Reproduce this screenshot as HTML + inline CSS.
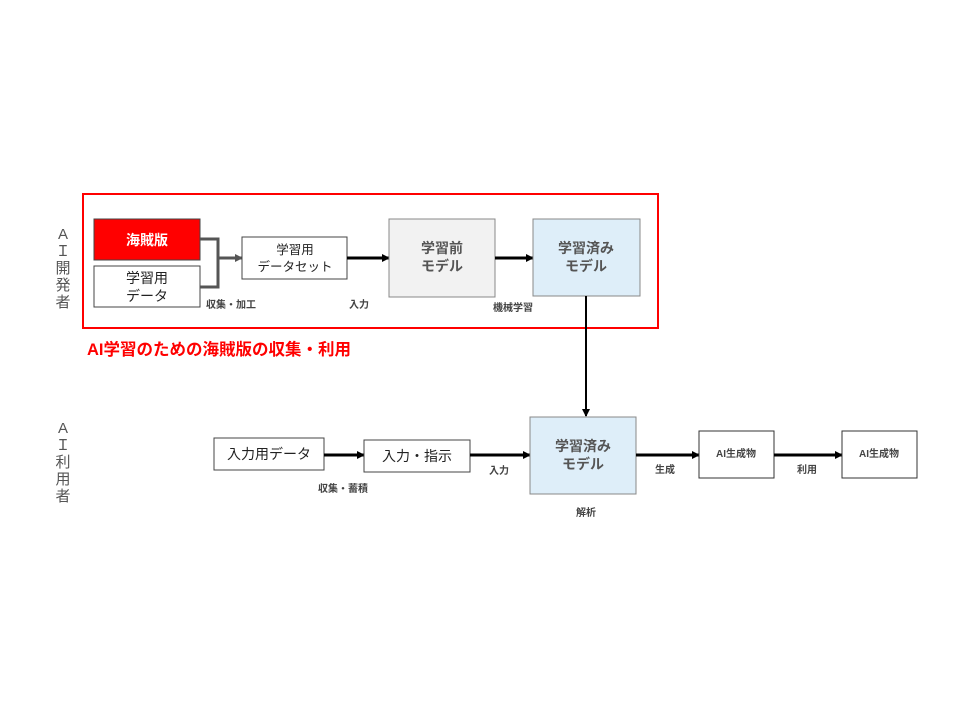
<!DOCTYPE html>
<html><head><meta charset="utf-8"><style>
html,body{margin:0;padding:0;background:#fff;}
svg{display:block}
text{font-family:"Liberation Sans","Noto Sans CJK JP",sans-serif;}
</style></head><body>
<svg width="960" height="720" viewBox="0 0 960 720" xmlns="http://www.w3.org/2000/svg">
<defs>
<marker id="a" markerWidth="8" markerHeight="8" refX="7" refY="4" orient="auto" markerUnits="userSpaceOnUse"><path d="M0,0 L8,4 L0,8 z" fill="#000"/></marker>
<marker id="g" markerWidth="8" markerHeight="8" refX="7" refY="4" orient="auto" markerUnits="userSpaceOnUse"><path d="M0,0 L8,4 L0,8 z" fill="#555"/></marker>
</defs>
<g font-size="15" fill="#555" text-anchor="middle">
<text x="63" y="239">A</text><text x="63" y="256">Ｉ</text><text x="63" y="273">開</text><text x="63" y="290">発</text><text x="63" y="307">者</text>
<text x="63" y="433">A</text><text x="63" y="450">Ｉ</text><text x="63" y="467">利</text><text x="63" y="484">用</text><text x="63" y="501">者</text>
</g>
<rect x="83" y="194" width="575" height="134" fill="none" stroke="#f00" stroke-width="2"/>
<text x="87" y="355" font-size="16.5" font-weight="bold" fill="#f00">AI学習のための海賊版の収集・利用</text>
<rect x="94" y="219" width="106" height="41" fill="#f00" stroke="#444" stroke-width="1"/>
<text x="147" y="245" font-size="14" font-weight="bold" fill="#fff" text-anchor="middle">海賊版</text>
<rect x="94" y="266" width="106" height="41" fill="#fff" stroke="#444" stroke-width="1"/>
<text x="147" y="283" font-size="14" fill="#222" text-anchor="middle">学習用</text>
<text x="147" y="301" font-size="14" fill="#222" text-anchor="middle">データ</text>
<path d="M200,239 H218 V287 H200" fill="none" stroke="#555" stroke-width="3"/>
<line x1="218" y1="258" x2="242" y2="258" stroke="#555" stroke-width="3" marker-end="url(#g)"/>
<rect x="242" y="237" width="105" height="42" fill="#fff" stroke="#444" stroke-width="1"/>
<text x="295" y="254" font-size="12.5" fill="#222" text-anchor="middle">学習用</text>
<text x="295" y="271" font-size="12.5" fill="#222" text-anchor="middle">データセット</text>
<line x1="347" y1="258" x2="389" y2="258" stroke="#000" stroke-width="3" marker-end="url(#a)"/>
<rect x="389" y="219" width="106" height="78" fill="#f2f2f2" stroke="#888" stroke-width="1"/>
<text x="442" y="253" font-size="14" font-weight="bold" fill="#555" text-anchor="middle">学習前</text>
<text x="442" y="271" font-size="14" font-weight="bold" fill="#555" text-anchor="middle">モデル</text>
<line x1="495" y1="258" x2="533" y2="258" stroke="#000" stroke-width="3" marker-end="url(#a)"/>
<rect x="533" y="219" width="107" height="77" fill="#deeef9" stroke="#888" stroke-width="1"/>
<text x="586" y="253" font-size="14" font-weight="bold" fill="#555" text-anchor="middle">学習済み</text>
<text x="586" y="271" font-size="14" font-weight="bold" fill="#555" text-anchor="middle">モデル</text>
<g font-size="10" font-weight="bold" fill="#444">
<text x="206" y="308">収集・加工</text>
<text x="349" y="308">入力</text>
<text x="493" y="311">機械学習</text>
</g>
<line x1="586" y1="296" x2="586" y2="416" stroke="#000" stroke-width="2" marker-end="url(#a)"/>
<rect x="214" y="438" width="110" height="32" fill="#fff" stroke="#444" stroke-width="1"/>
<text x="269" y="459" font-size="14" fill="#222" text-anchor="middle">入力用データ</text>
<line x1="324" y1="455" x2="364" y2="455" stroke="#000" stroke-width="3" marker-end="url(#a)"/>
<rect x="364" y="440" width="106" height="32" fill="#fff" stroke="#444" stroke-width="1"/>
<text x="417" y="461" font-size="14" fill="#222" text-anchor="middle">入力・指示</text>
<line x1="470" y1="455" x2="530" y2="455" stroke="#000" stroke-width="3" marker-end="url(#a)"/>
<rect x="530" y="417" width="106" height="77" fill="#deeef9" stroke="#888" stroke-width="1"/>
<text x="583" y="451" font-size="14" font-weight="bold" fill="#555" text-anchor="middle">学習済み</text>
<text x="583" y="469" font-size="14" font-weight="bold" fill="#555" text-anchor="middle">モデル</text>
<line x1="636" y1="455" x2="699" y2="455" stroke="#000" stroke-width="3" marker-end="url(#a)"/>
<rect x="699" y="431" width="75" height="47" fill="#fff" stroke="#333" stroke-width="1"/>
<text x="736" y="457" font-size="10" font-weight="bold" fill="#444" text-anchor="middle">AI生成物</text>
<line x1="774" y1="455" x2="842" y2="455" stroke="#000" stroke-width="3" marker-end="url(#a)"/>
<rect x="842" y="431" width="75" height="47" fill="#fff" stroke="#333" stroke-width="1"/>
<text x="879" y="457" font-size="10" font-weight="bold" fill="#444" text-anchor="middle">AI生成物</text>
<g font-size="10" font-weight="bold" fill="#444">
<text x="318" y="492">収集・蓄積</text>
<text x="489" y="474">入力</text>
<text x="655" y="473">生成</text>
<text x="797" y="473">利用</text>
<text x="576" y="516">解析</text>
</g>
</svg>
</body></html>
